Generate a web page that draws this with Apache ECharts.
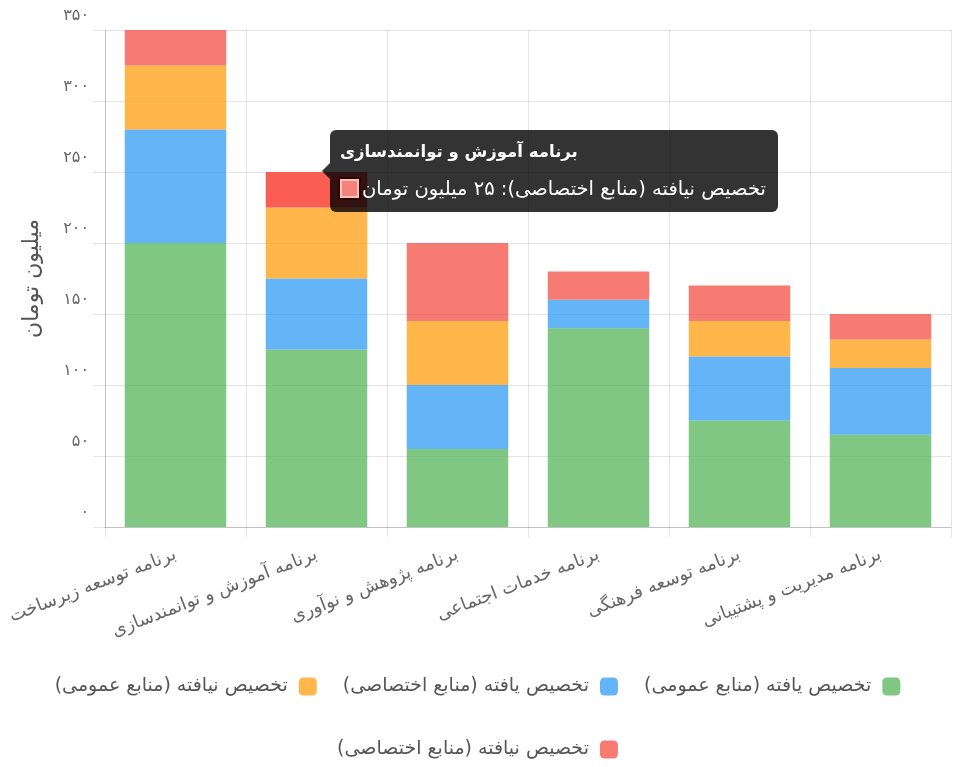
<!DOCTYPE html>
<html>
<head>
<meta charset="utf-8">
<script src="https://cdn.jsdelivr.net/npm/echarts@6/dist/echarts.min.js"></script>
<style>
html, body { margin: 0; padding: 0; background: #fff; }
#chart { width: 955px; height: 767px; }
</style>
</head>
<body>
<div id="chart" dir="rtl"></div>
<script>
// داده‌ها
const categories = [
  'برنامه توسعه زیرساخت',
  'برنامه آموزش و توانمندسازی',
  'برنامه پژوهش و نوآوری',
  'برنامه خدمات اجتماعی',
  'برنامه توسعه فرهنگی',
  'برنامه مدیریت و پشتیبانی'
]
const seriesNames = [
  'تخصیص یافته (منابع عمومی)',
  'تخصیص یافته (منابع اختصاصی)',
  'تخصیص نیافته (منابع عمومی)',
  'تخصیص نیافته (منابع اختصاصی)'
]
const allocatedPublic = [200, 125, 55, 140, 75, 65]
const allocatedPrivate = [80, 50, 45, 20, 45, 47]
const unallocatedPublic = [45, 50, 45, 0, 25, 20]
const unallocatedPrivate = [25, 25, 55, 20, 25, 18]
const yTickLabels = ['۰', '۵۰', '۱۰۰', '۱۵۰', '۲۰۰', '۲۵۰', '۳۰۰', '۳۵۰']
const unitName = 'میلیون تومان'

const fills = ['rgba(76,175,80,0.7)', 'rgba(33,150,243,0.7)', 'rgba(255,152,0,0.7)', 'rgba(244,67,54,0.7)']
const font = "'DejaVu Sans', sans-serif"

function toFa(n) {
  return String(n).replace(/[0-9]/g, d => '۰۱۲۳۴۵۶۷۸۹'[d])
}

let myChart = echarts.init(document.getElementById('chart'))

function bar(i, data) {
  return {
    name: seriesNames[i],
    type: 'bar',
    stack: 'total',
    barWidth: '72%',
    data: data,
    itemStyle: { color: fills[i] },
    emphasis: { itemStyle: { color: i === 3 ? 'rgba(250,75,62,0.9)' : fills[i] } }
  }
}

let legendBase = {
  align: 'right',
  icon: 'roundRect',
  itemWidth: 18,
  itemHeight: 18,
  itemGap: 26,
  formatter: function (name) { return '\u00A0' + name },
  textStyle: { color: '#555', fontSize: 19, fontFamily: font }
}

let option = {
  animation: false,
  textStyle: { fontFamily: font },
  grid: { left: 105, right: 4, top: 30, bottom: 240, outerBoundsMode: 'none' },
  tooltip: {
    trigger: 'item',
    triggerOn: 'none',
    alwaysShowContent: true,
    transitionDuration: 0,
    backgroundColor: 'rgba(0,0,0,0.8)',
    borderWidth: 0,
    padding: [10, 12, 10, 10],
    extraCssText: 'border-radius:6px;direction:rtl;text-align:left;box-shadow:none;',
    position: function () { return [330, 130] },
    formatter: function (p) {
      return '<div style="position:absolute;left:-8px;top:33px;width:0;height:0;border-top:8px solid transparent;border-bottom:8px solid transparent;border-right:8px solid rgba(0,0,0,0.8);"></div>' +
        '<div style="color:#fff;font-weight:bold;font-size:16.5px;line-height:24px;margin-bottom:12px;">' + p.name + '</div>' +
        '<div style="color:#fff;font-size:19.5px;line-height:26px;">' + p.seriesName + ': ' + toFa(p.value) + ' ' + unitName +
        '<span style="display:inline-block;width:15px;height:15px;background:#f4837a;border:2px solid #f9c3be;outline:2px solid #300;vertical-align:-3px;margin-right:3px;"></span></div>'
    }
  },
  legend: [
    Object.assign({ data: [seriesNames[2], seriesNames[1], seriesNames[0]], left: 'center', top: 672 }, legendBase),
    Object.assign({ data: [seriesNames[3]], left: 'center', top: 735 }, legendBase)
  ],
  xAxis: {
    type: 'category',
    data: categories,
    axisLine: { lineStyle: { color: 'rgba(0,0,0,0.15)' } },
    axisTick: { show: true, length: 10, lineStyle: { color: 'rgba(0,0,0,0.1)' } },
    splitLine: { show: true, interval: 0, lineStyle: { color: 'rgba(0,0,0,0.1)' } },
    axisLabel: { interval: 0, rotate: 21, margin: 27, color: '#666', fontSize: 18 }
  },
  yAxis: {
    type: 'value',
    min: 0,
    max: 350,
    interval: 50,
    name: unitName,
    nameLocation: 'middle',
    nameGap: 62,
    nameTextStyle: { color: '#555', fontSize: 22 },
    axisLine: { show: true, lineStyle: { color: 'rgba(0,0,0,0.15)' } },
    axisTick: { show: true, length: 12, lineStyle: { color: 'rgba(0,0,0,0.1)' } },
    splitLine: { lineStyle: { color: 'rgba(0,0,0,0.1)' } },
    axisLabel: {
      margin: 16,
      color: '#666',
      fontSize: 16,
      verticalAlign: 'bottom',
      lineHeight: 28,
      formatter: function (v) { return yTickLabels[v / 50] }
    }
  },
  series: [
    bar(0, allocatedPublic),
    bar(1, allocatedPrivate),
    bar(2, unallocatedPublic),
    bar(3, unallocatedPrivate)
  ]
}

myChart.setOption(option)
myChart.dispatchAction({ type: 'highlight', seriesIndex: 3, dataIndex: 1 })
myChart.dispatchAction({ type: 'showTip', seriesIndex: 3, dataIndex: 1 })
</script>
</body>
</html>
